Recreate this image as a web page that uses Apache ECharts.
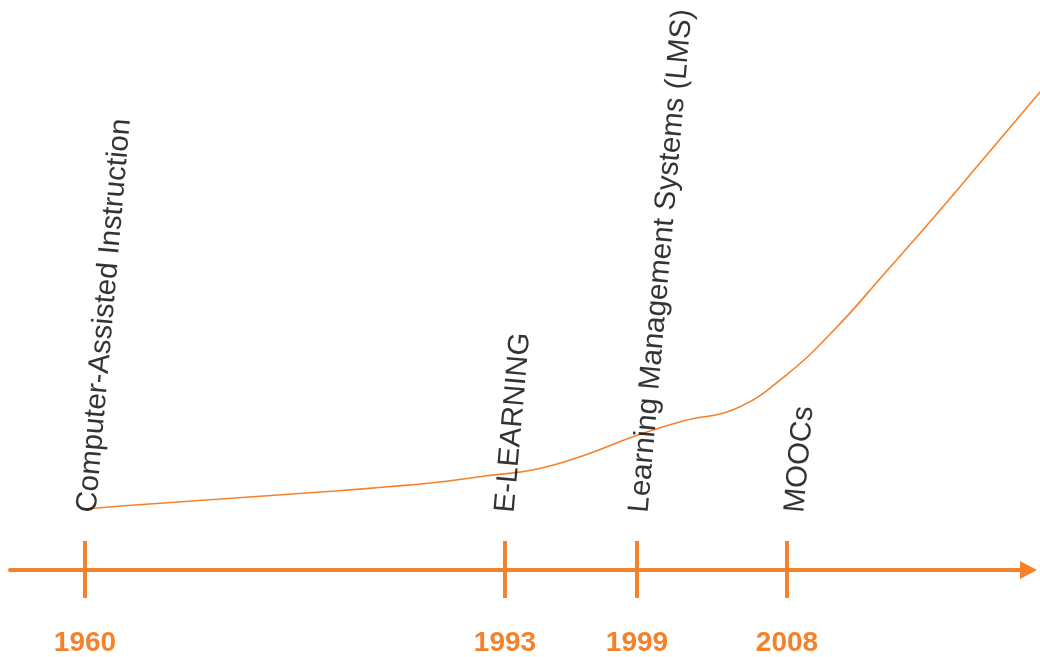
<!DOCTYPE html>
<html><head><meta charset="utf-8">
<script src="https://cdn.jsdelivr.net/npm/echarts@6/dist/echarts.min.js"></script>
<style>html,body{margin:0;padding:0;background:#fff}#chart{width:1040px;height:657px}</style>
</head><body><div id="chart"></div>
<script>
// Timeline milestones (schematic positions along the timeline, 0..100)
const milestoneYears = ['1960', '1993', '1999', '2008'];
const milestoneNames = ['Computer-Assisted Instruction', 'E-LEARNING', 'Learning Management Systems (LMS)', 'MOOCs'];
const milestoneSlots = [7.36, 48.6, 61.56, 76.29];
const labelSlots = [7.6, 48.65, 61.8, 77.1];

// Growth curve (schematic position, level)
const curveX = [7.36, 12.27, 17.18, 22.09, 27.0, 31.91, 36.82, 41.73, 46.64, 51.55, 56.46, 61.37, 66.27, 71.18, 76.09, 81.0, 85.91, 90.82, 95.73, 101.13];
const curveY = [11.17, 11.87, 12.48, 13.09, 13.70, 14.31, 15.01, 15.79, 16.93, 18.06, 20.59, 23.91, 26.61, 28.62, 34.38, 42.58, 52.36, 62.30, 72.60, 83.94];

const LABEL_LEVEL = 10.1;
const ORANGE = '#F5822A';
const FONT = "'Liberation Sans', Arial, sans-serif";

// layout constants
const W = 1040, LEFT = 10, RIGHT = 11.5;
const wideMax = 100 * (W - LEFT) / (W - LEFT - RIGHT); // same scale, extended to canvas edge

function yearFor(v) {
  let best = 0;
  for (let i = 1; i < milestoneSlots.length; i++) {
    if (Math.abs(milestoneSlots[i] - v) < Math.abs(milestoneSlots[best] - v)) best = i;
  }
  return milestoneYears[best];
}

const chart = echarts.init(document.getElementById('chart'), null, { renderer: 'canvas' });
chart.setOption({
  animation: false,
  backgroundColor: '#fff',
  grid: [
    { left: LEFT, right: RIGHT, top: 0, bottom: 84, containLabel: false },
    { left: LEFT, right: 0, top: 0, bottom: 84, containLabel: false }
  ],
  xAxis: [
    {
      type: 'value', gridIndex: 0, min: 0, max: 100, position: 'bottom',
      axisLine: { show: true, symbol: ['none', 'triangle'], symbolSize: [18, 17], lineStyle: { color: ORANGE, width: 4 } },
      axisTick: { show: true, inside: true, length: 29, customValues: milestoneSlots, lineStyle: { color: ORANGE, width: 4 } },
      axisLabel: { show: true, customValues: milestoneSlots, margin: 59, formatter: v => yearFor(v), color: ORANGE, fontSize: 28, fontWeight: 'bold', fontFamily: FONT },
      splitLine: { show: false }
    },
    {
      type: 'value', gridIndex: 0, min: 0, max: 100, position: 'bottom',
      axisLine: { show: false },
      axisTick: { show: true, inside: false, length: 28, customValues: milestoneSlots, lineStyle: { color: ORANGE, width: 4 } },
      axisLabel: { show: false },
      splitLine: { show: false }
    },
    {
      type: 'value', gridIndex: 1, min: 0, max: wideMax, show: false
    }
  ],
  yAxis: [
    { type: 'value', gridIndex: 0, min: 0, max: 100, show: false },
    { type: 'value', gridIndex: 1, min: 0, max: 100, show: false }
  ],
  series: [
    {
      type: 'line', xAxisIndex: 2, yAxisIndex: 1,
      data: curveX.map((x, i) => [x, curveY[i]]),
      showSymbol: false, symbol: 'none', smooth: 0.45, clip: false,
      lineStyle: { color: ORANGE, width: 1.6 },
      z: 3
    },
    {
      type: 'scatter', xAxisIndex: 0, yAxisIndex: 0,
      data: labelSlots.map((x, i) => ({ value: [x, LABEL_LEVEL], name: milestoneNames[i] })),
      symbolSize: 0,
      label: {
        show: true, formatter: '{b}', position: 'inside', rotate: 85,
        align: 'left', verticalAlign: 'middle',
        color: '#000', fontSize: 29.5, fontFamily: FONT
      },
      z: 4
    }
  ]
});
</script></body></html>
